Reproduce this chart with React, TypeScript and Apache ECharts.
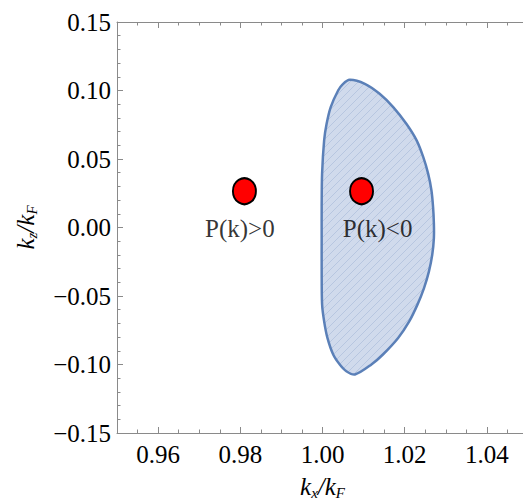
import React, { useEffect, useRef } from 'react';
import * as echarts from 'echarts';

// Boundary of the P(k)<0 region (kx/kF, kz/kF), clockwise from the top
const boundaryKx = [1.0066, 1.0103, 1.0139, 1.0172, 1.0204, 1.0229, 1.0245, 1.0257, 1.0265, 1.0269, 1.0271, 1.0271, 1.0267, 1.0259, 1.0247, 1.0231, 1.0211, 1.0184, 1.0147, 1.0119, 1.0079, 1.0058, 1.0042, 1.0026, 1.0012, 1.0004, 0.9999, 0.9998, 0.9998, 0.9998, 0.9999, 1.0004, 1.0010, 1.0020, 1.0038, 1.0049];
const boundaryKz = [0.1078, 0.1049, 0.0976, 0.0879, 0.0757, 0.0636, 0.0515, 0.0393, 0.0272, 0.0151, 0.0029, -0.0078, -0.0199, -0.032, -0.0442, -0.0563, -0.0685, -0.0806, -0.0927, -0.1, -0.1073, -0.1049, -0.1, -0.0927, -0.0806, -0.0685, -0.056, -0.031, -0.008, 0.0151, 0.0393, 0.0636, 0.0757, 0.0879, 0.1, 0.1045];

// Red points
const pointKx = [0.981, 1.0095];
const pointKz = [0.0265, 0.0265];

// Text annotations
const labelTexts = ['P(k)>0', 'P(k)<0'];
const labelKx = [0.9799, 1.0134];
const labelKz = [-0.0005, -0.0005];

// Axis ticks
const xMajorTicks = [0.96, 0.98, 1.0, 1.02, 1.04];
const xMin = 0.95;
const xMax = 1.05;
const yMin = -0.15;
const yMax = 0.15;

const serif = 'Liberation Serif';
const axisColor = '#8a8a8a';
const textColor = '#000000';

const nameRich = {
  i: { fontFamily: serif, fontStyle: 'italic', fontSize: 25, color: textColor },
  s: { fontFamily: serif, fontStyle: 'italic', fontSize: 15, color: textColor, padding: [12, 0, 0, 0] },
};

function makeHatch(): string {
  const c = document.createElement('canvas');
  c.width = 8;
  c.height = 8;
  const ctx = c.getContext('2d');
  if (!ctx) return '';
  ctx.fillStyle = '#d0daec';
  ctx.fillRect(0, 0, 8, 8);
  ctx.strokeStyle = 'rgba(94,129,181,0.22)';
  ctx.lineWidth = 1;
  ctx.beginPath();
  ctx.moveTo(-1, 9);
  ctx.lineTo(9, -1);
  ctx.moveTo(-1, 1);
  ctx.lineTo(1, -1);
  ctx.moveTo(7, 9);
  ctx.lineTo(9, 7);
  ctx.stroke();
  return c.toDataURL();
}

function makeXAxes() {
  const base = { type: 'value', min: xMin, max: xMax, gridIndex: 0, splitLine: { show: false } };
  return [
    {
      ...base,
      position: 'bottom',
      interval: 0.005,
      axisLine: { show: true, onZero: false, lineStyle: { color: axisColor, width: 1 } },
      axisTick: { show: true, inside: true, length: 3.5, lineStyle: { color: axisColor } },
      axisLabel: {
        show: true,
        customValues: xMajorTicks,
        formatter: (v: number) => v.toFixed(2),
        margin: 9,
        fontSize: 25,
        fontFamily: serif,
        color: textColor,
      },
      name: '{i|k}{s|x}{i|/k}{s|F}',
      nameLocation: 'middle',
      nameGap: 40,
      nameTextStyle: { rich: nameRich },
    },
    {
      ...base,
      position: 'bottom',
      axisLine: { show: false, onZero: false },
      axisTick: { show: true, inside: true, length: 6, customValues: xMajorTicks, lineStyle: { color: axisColor } },
      axisLabel: { show: false },
    },
    {
      ...base,
      position: 'top',
      interval: 0.005,
      axisLine: { show: true, onZero: false, lineStyle: { color: axisColor, width: 1 } },
      axisTick: { show: true, inside: true, length: 3.5, lineStyle: { color: axisColor } },
      axisLabel: { show: false },
    },
    {
      ...base,
      position: 'top',
      axisLine: { show: false, onZero: false },
      axisTick: { show: true, inside: true, length: 6, customValues: xMajorTicks, lineStyle: { color: axisColor } },
      axisLabel: { show: false },
    },
  ];
}

export default function App() {
  const ref = useRef<HTMLDivElement>(null);

  useEffect(() => {
    if (!ref.current) return;
    const chart = echarts.init(ref.current, null, { renderer: 'svg' });
    const hatch = makeHatch();
    const fill: any = hatch ? { image: hatch, repeat: 'repeat' } : '#cbd6ea';
    const option: any = {
      animation: false,
      backgroundColor: '#ffffff',
      grid: { left: 117, right: 0, top: 22, bottom: 68, outerBoundsMode: 'none', containLabel: false },
      xAxis: makeXAxes(),
      yAxis: {
        type: 'value',
        position: 'left',
        min: yMin,
        max: yMax,
        interval: 0.05,
        splitLine: { show: false },
        axisLine: { show: true, onZero: false, lineStyle: { color: axisColor, width: 1 } },
        axisTick: { show: true, inside: true, length: 6, lineStyle: { color: axisColor } },
        minorTick: { show: true, splitNumber: 5, length: 3.5, lineStyle: { color: axisColor } },
        axisLabel: {
          margin: 6,
          fontSize: 25,
          fontFamily: serif,
          color: textColor,
          formatter: (v: number) => (v < -1e-9 ? '\u2212' + Math.abs(v).toFixed(2) : Math.abs(v).toFixed(2)),
        },
        name: '{i|k}{s|z}{i|/k}{s|F}',
        nameLocation: 'middle',
        nameRotate: 90,
        nameGap: 78,
        nameTextStyle: { rich: nameRich },
      },
      series: [
        {
          type: 'custom',
          coordinateSystem: 'cartesian2d',
          xAxisIndex: 0,
          yAxisIndex: 0,
          silent: true,
          z: 1,
          data: boundaryKx.map((x, i) => [x, boundaryKz[i]]),
          renderItem: (params: any, api: any) => {
            if (params.dataIndex !== 0) return null;
            const pts = boundaryKx.map((x, i) => api.coord([x, boundaryKz[i]]));
            return {
              type: 'polygon',
              shape: { points: pts, smooth: 0.3 },
              style: { fill, stroke: '#5b80b8', lineWidth: 2.5 },
            };
          },
        },
        {
          type: 'scatter',
          xAxisIndex: 0,
          yAxisIndex: 0,
          z: 3,
          symbol: 'circle',
          symbolSize: [23, 26],
          itemStyle: { color: '#ff0000', borderColor: '#000000', borderWidth: 2, opacity: 1 },
          data: pointKx.map((x, i) => [x, pointKz[i]]),
        },
        {
          type: 'scatter',
          xAxisIndex: 0,
          yAxisIndex: 0,
          z: 4,
          symbolSize: 1,
          itemStyle: { color: 'transparent' },
          label: {
            show: true,
            position: 'inside',
            formatter: (p: any) => labelTexts[p.dataIndex],
            fontSize: 25,
            fontFamily: serif,
            color: textColor,
          },
          data: labelKx.map((x, i) => [x, labelKz[i]]),
        },
      ],
    };
    chart.setOption(option);
    return () => chart.dispose();
  }, []);

  return (
    <div style={{ position: 'fixed', left: 0, top: 0, width: 523, height: 501, overflow: 'hidden', background: '#fff' }}>
      <div ref={ref} style={{ width: 528, height: 501 }} />
    </div>
  );
}
